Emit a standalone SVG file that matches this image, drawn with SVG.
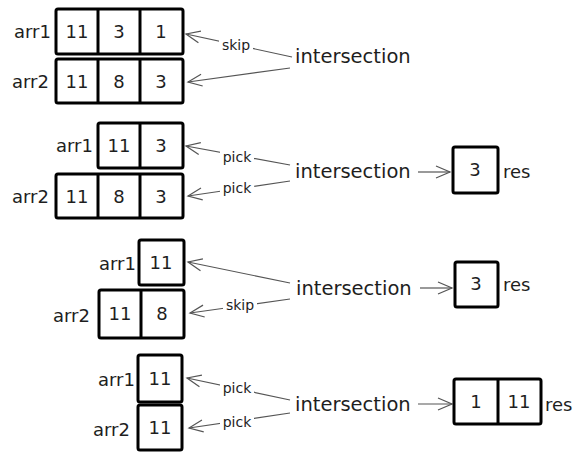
<svg xmlns="http://www.w3.org/2000/svg" width="585" height="460" viewBox="0 0 585 460">
<style>
.box{fill:#fff;stroke:#000;stroke-width:3;}
.div{stroke:#000;stroke-width:3;}
.t{font-family:"DejaVu Sans",sans-serif;font-size:18px;fill:#1e1e1e;text-anchor:middle;dominant-baseline:central;}
.lbl{font-family:"DejaVu Sans",sans-serif;font-size:18px;fill:#1e1e1e;dominant-baseline:central;}
.int{font-size:19.5px;}
.al{font-family:"DejaVu Sans",sans-serif;font-size:14px;fill:#1e1e1e;text-anchor:middle;dominant-baseline:central;}
.arr{stroke:#555;stroke-width:1.2;fill:none;marker-end:url(#ah);}
.bg{fill:#fff;}
</style>
<defs>
<marker id="ah" markerUnits="userSpaceOnUse" viewBox="-15 -8 17 16" refX="0" refY="0" markerWidth="17" markerHeight="16" orient="auto">
<path d="M-14,-6 L0,0 L-14,6" fill="none" stroke="#555" stroke-width="1.2"/>
</marker>
</defs>

<g id="connectors">
<line class="arr" x1="292" y1="57" x2="186" y2="34"/>
<rect class="bg" x="219" y="38" width="34" height="15"/>
<text class="al" x="236" y="45">skip</text>
<line class="arr" x1="290" y1="68" x2="188" y2="82"/>

<line class="arr" x1="290" y1="165" x2="186" y2="146"/>
<rect class="bg" x="220" y="150" width="34" height="15"/>
<text class="al" x="237" y="157">pick</text>
<line class="arr" x1="290" y1="181" x2="188" y2="196"/>
<rect class="bg" x="220" y="181" width="34" height="15"/>
<text class="al" x="237" y="188">pick</text>
<line class="arr" x1="418" y1="172" x2="450" y2="172"/>

<line class="arr" x1="290" y1="283" x2="188" y2="262"/>
<line class="arr" x1="290" y1="299" x2="190" y2="313"/>
<rect class="bg" x="223" y="298" width="34" height="15"/>
<text class="al" x="240" y="305">skip</text>
<line class="arr" x1="420" y1="288" x2="452" y2="288"/>

<line class="arr" x1="290" y1="400" x2="187" y2="378"/>
<rect class="bg" x="220" y="381" width="34" height="15"/>
<text class="al" x="237" y="388">pick</text>
<line class="arr" x1="290" y1="413" x2="189" y2="428"/>
<rect class="bg" x="220" y="415" width="34" height="15"/>
<text class="al" x="237" y="422">pick</text>
<line class="arr" x1="418" y1="404" x2="452" y2="404"/>
</g>

<g id="row1-arr1">
<text class="lbl" x="14" y="31">arr1</text>
<rect class="box" x="56" y="9" width="127" height="45" rx="2"/>
<line class="div" x1="98" y1="9" x2="98" y2="54"/>
<line class="div" x1="140" y1="9" x2="140" y2="54"/>
<text class="t" x="77" y="31">11</text><text class="t" x="119" y="31">3</text><text class="t" x="161" y="31">1</text>
</g>
<g id="row1-arr2">
<text class="lbl" x="12" y="81">arr2</text>
<rect class="box" x="56" y="59" width="127" height="44" rx="2"/>
<line class="div" x1="98" y1="59" x2="98" y2="103"/>
<line class="div" x1="140" y1="59" x2="140" y2="103"/>
<text class="t" x="77" y="81">11</text><text class="t" x="119" y="81">8</text><text class="t" x="161" y="81">3</text>
</g>
<g id="row1-int"><text class="lbl int" x="295" y="56">intersection</text></g>

<g id="row2-arr1">
<text class="lbl" x="56" y="145">arr1</text>
<rect class="box" x="98" y="123" width="85" height="45" rx="2"/>
<line class="div" x1="140" y1="123" x2="140" y2="168"/>
<text class="t" x="119" y="145">11</text><text class="t" x="161" y="145">3</text>
</g>
<g id="row2-arr2">
<text class="lbl" x="12" y="196">arr2</text>
<rect class="box" x="56" y="174" width="127" height="44" rx="2"/>
<line class="div" x1="98" y1="174" x2="98" y2="218"/>
<line class="div" x1="140" y1="174" x2="140" y2="218"/>
<text class="t" x="77" y="196">11</text><text class="t" x="119" y="196">8</text><text class="t" x="161" y="196">3</text>
</g>
<g id="row2-int"><text class="lbl int" x="295" y="171">intersection</text></g>
<g id="row2-res">
<rect class="box" x="453" y="147" width="45" height="46" rx="2"/>
<text class="t" x="475" y="169">3</text>
<text class="lbl" x="503" y="171">res</text>
</g>

<g id="row3-arr1">
<text class="lbl" x="99" y="263">arr1</text>
<rect class="box" x="139" y="240" width="45" height="45" rx="2"/>
<text class="t" x="161" y="262">11</text>
</g>
<g id="row3-arr2">
<text class="lbl" x="53" y="315">arr2</text>
<rect class="box" x="99" y="290" width="85" height="48" rx="2"/>
<line class="div" x1="141" y1="290" x2="141" y2="338"/>
<text class="t" x="120" y="313">11</text><text class="t" x="162" y="313">8</text>
</g>
<g id="row3-int"><text class="lbl int" x="296" y="288">intersection</text></g>
<g id="row3-res">
<rect class="box" x="455" y="262" width="43" height="45" rx="2"/>
<text class="t" x="476" y="283">3</text>
<text class="lbl" x="503" y="284">res</text>
</g>

<g id="row4-arr1">
<text class="lbl" x="98" y="379">arr1</text>
<rect class="box" x="138" y="355" width="44" height="47" rx="2"/>
<text class="t" x="160" y="378">11</text>
</g>
<g id="row4-arr2">
<text class="lbl" x="93" y="429">arr2</text>
<rect class="box" x="138" y="405" width="44" height="45" rx="2"/>
<text class="t" x="160" y="427">11</text>
</g>
<g id="row4-int"><text class="lbl int" x="295" y="404">intersection</text></g>
<g id="row4-res">
<rect class="box" x="454" y="379" width="87" height="45" rx="2"/>
<line class="div" x1="498" y1="379" x2="498" y2="424"/>
<text class="t" x="476" y="401">1</text><text class="t" x="519" y="401">11</text>
<text class="lbl" x="545" y="404">res</text>
</g>
</svg>
